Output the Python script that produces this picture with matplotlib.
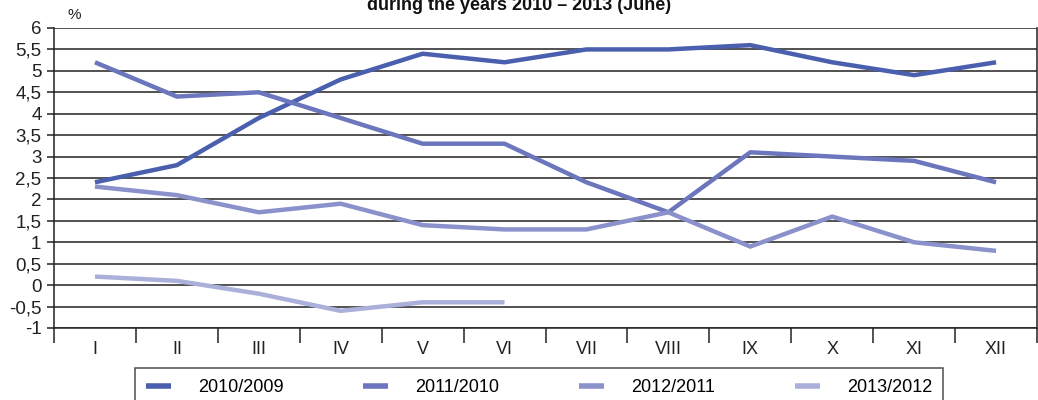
import matplotlib
matplotlib.use("Agg")
import matplotlib.pyplot as plt
from matplotlib.ticker import FixedLocator, FuncFormatter

plt.rcParams['font.family'] = ['Liberation Sans', 'DejaVu Sans']

months = ['I', 'II', 'III', 'IV', 'V', 'VI', 'VII', 'VIII', 'IX', 'X', 'XI', 'XII']
s2010 = [2.4, 2.8, 3.9, 4.8, 5.4, 5.2, 5.5, 5.5, 5.6, 5.2, 4.9, 5.2]
s2011 = [5.2, 4.4, 4.5, 3.9, 3.3, 3.3, 2.4, 1.7, 3.1, 3.0, 2.9, 2.4]
s2012 = [2.3, 2.1, 1.7, 1.9, 1.4, 1.3, 1.3, 1.7, 0.9, 1.6, 1.0, 0.8]
s2013 = [0.2, 0.1, -0.2, -0.6, -0.4, -0.4]
labels = ['2010/2009', '2011/2010', '2012/2011', '2013/2012']
colors = ['#4a5fae', '#6b76bd', '#8a91cb', '#abb0db']

fig = plt.figure(figsize=(10.38, 4.0), dpi=100)
ax = fig.add_axes([54 / 1038, 1 - 328 / 400, 983 / 1038, 300 / 400])

x = list(range(len(months)))
for vals, lab, col in zip([s2010, s2011, s2012, s2013], labels, colors):
    ax.plot(x[:len(vals)], vals, color=col, lw=3.2, label=lab, solid_capstyle='butt')

ax.set_xlim(-0.5, 11.5)
ax.set_ylim(-1, 6)

# horizontal grid
yt = [i * 0.5 for i in range(-2, 13)]
for v in yt:
    ax.axhline(v, color='#222222', lw=1.1, zorder=0)
ax.yaxis.set_major_locator(FixedLocator(yt))
ax.yaxis.set_major_formatter(FuncFormatter(lambda v, p: ('%g' % v).replace('.', ',')))
ax.tick_params(axis='y', length=5, width=1.1, pad=4, labelsize=13.5, colors='#222222')

ax.set_xticks(x)
ax.set_xticklabels(months)
ax.set_xticks([i - 0.5 for i in range(13)], minor=True)
ax.tick_params(axis='x', which='major', length=0, pad=9, labelsize=13, colors='#222222')
ax.tick_params(axis='x', which='minor', length=11, width=1.1, color='#222222')

for side in ['left', 'right', 'bottom']:
    ax.spines[side].set_color('#222222')
    ax.spines[side].set_linewidth(1.1)
ax.spines['top'].set_visible(False)

fig.text(74 / 1038, 1 - 15 / 400, '%', fontsize=11, ha='center', va='center', color='#222222')
fig.text(0.5, 1 - 5 / 400, 'during the years 2010 \u2013 2013 (June)', fontsize=13,
         fontweight='bold', ha='center', va='center', color='#111111')

leg = fig.legend(loc='upper left', bbox_to_anchor=(135 / 1038, -0.1, 808 / 1038, 0.18),
                 mode='expand', ncol=4, frameon=True, fancybox=False, fontsize=13,
                 handlelength=1.4, handletextpad=1.5, borderpad=0.6, borderaxespad=0)
leg.get_frame().set_edgecolor('#222222')
leg.get_frame().set_linewidth(1.1)
for line in leg.get_lines():
    line.set_linewidth(4)

fig.savefig('out.png', dpi=100)
